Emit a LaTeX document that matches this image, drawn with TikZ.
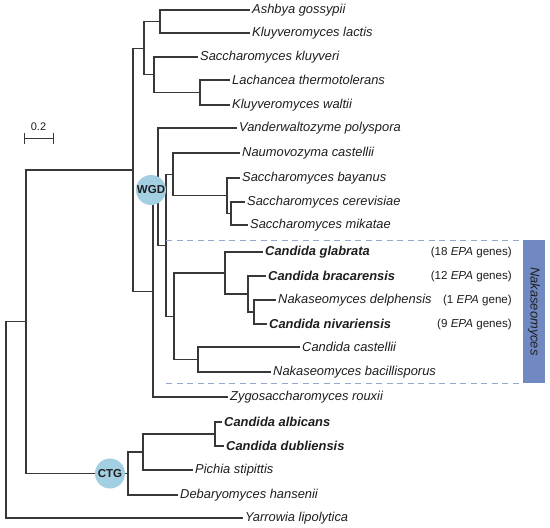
\documentclass[tikz,border=0pt]{standalone}
\usepackage{fontspec}
\setmainfont{Liberation Sans}
\definecolor{branchgray}{HTML}{383838}
\definecolor{textdark}{HTML}{1E1E1E}
\definecolor{eventblue}{HTML}{A3CFE3}
\definecolor{nakablue}{HTML}{7189C3}
\definecolor{dashblue}{HTML}{93A8CB}
\begin{document}
\begin{tikzpicture}[x=1pt, y=-1pt,
        branch/.style={draw=branchgray, line width=1.2pt},
        leaf/.style={anchor=west, inner sep=2pt, text=textdark, font=\fontsize{12.9}{14}\selectfont\itshape},
        keyleaf/.style={leaf, font=\fontsize{12.9}{14}\selectfont\bfseries\itshape},
        epa/.style={anchor=east, inner sep=0pt, text=textdark, font=\fontsize{11.6}{14}\selectfont},
        event/.style={circle, fill=eventblue, minimum size=30pt, inner sep=0pt, text=textdark, font=\fontsize{11.5}{12}\selectfont\bfseries},
        cladeline/.style={draw=dashblue, line width=0.9pt, dash pattern=on 6pt off 4.5pt}
      ]
      \useasboundingbox (0,0) rectangle (550,528);

      \node[leaf] (ashbya) at (250,10) {Ashbya gossypii};
      \node[leaf] (lactis) at (250,33) {Kluyveromyces lactis};
      \node[leaf] (kluyveri) at (198,57) {Saccharomyces kluyveri};
      \node[leaf] (lachancea) at (230,80) {Lachancea thermotolerans};
      \node[leaf] (waltii) at (230,105) {Kluyveromyces waltii};
      \node[leaf] (vander) at (237,128) {Vanderwaltozyme polyspora};
      \node[leaf] (naumo) at (240,153) {Naumovozyma castellii};
      \node[leaf] (bayanus) at (240,178) {Saccharomyces bayanus};
      \node[leaf] (cerevisiae) at (245,202) {Saccharomyces cerevisiae};
      \node[leaf] (mikatae) at (248,225) {Saccharomyces mikatae};
      \node[keyleaf] (glabrata) at (263,252) {Candida glabrata};
      \node[keyleaf] (bracarensis) at (266,276) {Candida bracarensis};
      \node[leaf] (delphensis) at (276,300) {Nakaseomyces delphensis};
      \node[keyleaf] (nivariensis) at (267,324) {Candida nivariensis};
      \node[leaf] (castellii) at (300,347) {Candida castellii};
      \node[leaf] (bacillis) at (271,372) {Nakaseomyces bacillisporus};
      \node[leaf] (rouxii) at (228,397) {Zygosaccharomyces rouxii};
      \node[keyleaf] (albicans) at (222,422) {Candida albicans};
      \node[keyleaf] (dubliensis) at (224,446) {Candida dubliensis};
      \node[leaf] (pichia) at (193,470) {Pichia stipittis};
      \node[leaf] (debaryo) at (178,495) {Debaryomyces hansenii};
      \node[leaf] (yarrowia) at (243,518) {Yarrowia lipolytica};

      \node[epa] (epa18) at (512,252) {(18 \textit{EPA} genes)};
      \node[epa] (epa12) at (512,276) {(12 \textit{EPA} genes)};
      \node[epa] (epa1) at (512,300) {(1 \textit{EPA} gene)};
      \node[epa] (epa9) at (512,324) {(9 \textit{EPA} genes)};

      \coordinate (n1) at (160,21.5);
      \coordinate (n2) at (200,92.5);
      \coordinate (n3) at (154,74.75);
      \coordinate (n4) at (144,48.1);
      \coordinate (n5) at (231,213.5);
      \coordinate (n6) at (227,195.75);
      \coordinate (n7) at (173,174.4);
      \coordinate (n8) at (254,312);
      \coordinate (n9) at (248,294);
      \coordinate (n10) at (225,273);
      \coordinate (n11) at (198,359.5);
      \coordinate (n12) at (174,316.25);
      \coordinate (n13) at (166,245.3);
      \coordinate (n14) at (158,186.7);
      \coordinate (n15) at (153,291.8);
      \coordinate (n16) at (133,170);
      \coordinate (n17) at (215,434);
      \coordinate (n18) at (143,452);
      \coordinate (n19) at (128,473.5);
      \coordinate (n20) at (26,321.75);
      \coordinate (n21) at (6,420);

      \draw[branch] (n1) |- (ashbya.west);
      \draw[branch] (n1) |- (lactis.west);
      \draw[branch] (n2) |- (lachancea.west);
      \draw[branch] (n2) |- (waltii.west);
      \draw[branch] (n3) |- (kluyveri.west);
      \draw[branch] (n3) |- (n2);
      \draw[branch] (n4) |- (n1);
      \draw[branch] (n4) |- (n3);
      \draw[branch] (n5) |- (cerevisiae.west);
      \draw[branch] (n5) |- (mikatae.west);
      \draw[branch] (n6) |- (bayanus.west);
      \draw[branch] (n6) |- (n5);
      \draw[branch] (n7) |- (naumo.west);
      \draw[branch] (n7) |- (n6);
      \draw[branch] (n8) |- (delphensis.west);
      \draw[branch] (n8) |- (nivariensis.west);
      \draw[branch] (n9) |- (bracarensis.west);
      \draw[branch] (n9) |- (n8);
      \draw[branch] (n10) |- (glabrata.west);
      \draw[branch] (n10) |- (n9);
      \draw[branch] (n11) |- (castellii.west);
      \draw[branch] (n11) |- (bacillis.west);
      \draw[branch] (n12) |- (n10);
      \draw[branch] (n12) |- (n11);
      \draw[branch] (n13) |- (n7);
      \draw[branch] (n13) |- (n12);
      \draw[branch] (n14) |- (vander.west);
      \draw[branch] (n14) |- (n13);
      \draw[branch] (n15) |- (n14);
      \draw[branch] (n15) |- (rouxii.west);
      \draw[branch] (n16) |- (n4);
      \draw[branch] (n16) |- (n15);
      \draw[branch] (n17) |- (albicans.west);
      \draw[branch] (n17) |- (dubliensis.west);
      \draw[branch] (n18) |- (n17);
      \draw[branch] (n18) |- (pichia.west);
      \draw[branch] (n19) |- (n18);
      \draw[branch] (n19) |- (debaryo.west);
      \draw[branch] (n20) |- (n16);
      \draw[branch] (n20) |- (n19);
      \draw[branch] (n21) |- (n20);
      \draw[branch] (n21) |- (yarrowia.west);

      \node[event] (wgd) at (151,190) {WGD};
      \node[event] (ctg) at (110,473.5) {CTG};

      \draw[cladeline] (166,240) -- (523,240);
      \draw[cladeline] (166,383) -- (523,383);
      \node[fill=nakablue, rotate=-90, minimum width=143pt, minimum height=22pt, inner sep=0pt,
        text=textdark, font=\fontsize{12.9}{14}\selectfont\itshape] (naka) at (534,311.5) {Nakaseomyces};

      \draw[branch, line width=1pt] (24,132.5) -- (24,143.5) (24,138) -- (53,138) (53,132.5) -- (53,143.5);
      \node[text=textdark, font=\fontsize{11}{12}\selectfont] (scale) at (38.5,127) {0.2};
    \end{tikzpicture}
\end{document}
